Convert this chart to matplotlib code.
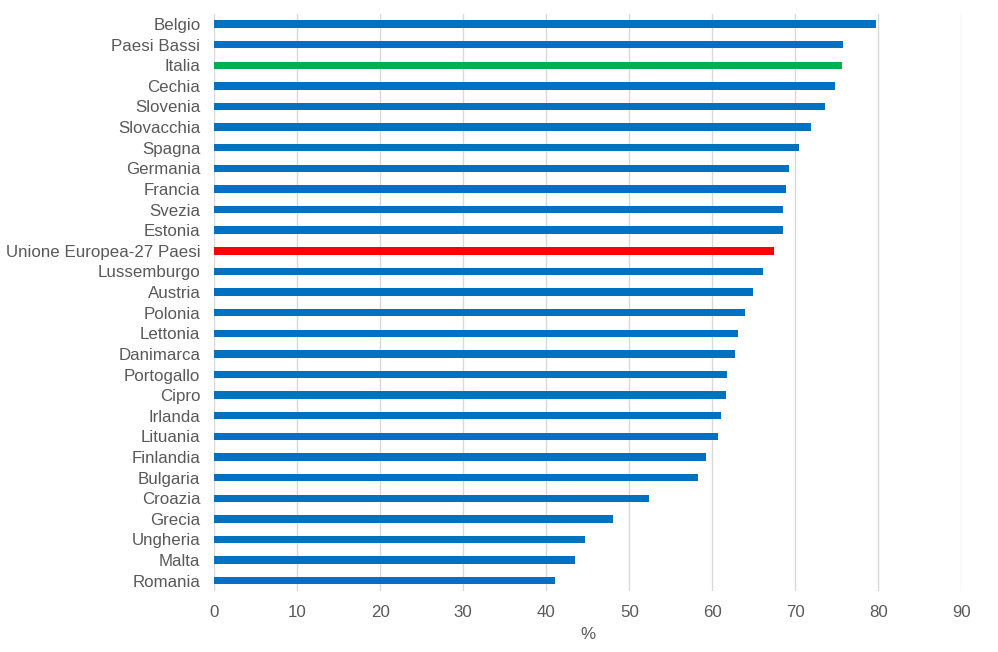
import matplotlib.pyplot as plt

plt.rcParams['font.family'] = ['Liberation Sans', 'DejaVu Sans']

countries = ["Belgio", "Paesi Bassi", "Italia", "Cechia", "Slovenia", "Slovacchia",
             "Spagna", "Germania", "Francia", "Svezia", "Estonia",
             "Unione Europea-27 Paesi", "Lussemburgo", "Austria", "Polonia",
             "Lettonia", "Danimarca", "Portogallo", "Cipro", "Irlanda", "Lituania",
             "Finlandia", "Bulgaria", "Croazia", "Grecia", "Ungheria", "Malta",
             "Romania"]
values = [79.7, 75.7, 75.6, 74.8, 73.6, 71.9, 70.4, 69.2, 68.9, 68.5, 68.5,
          67.4, 66.1, 64.9, 63.9, 63.1, 62.7, 61.8, 61.6, 61.0, 60.7, 59.3,
          58.3, 52.4, 48.0, 44.7, 43.5, 41.0]

colors = []
for c in countries:
    if c == "Italia":
        colors.append("#00B050")
    elif c.startswith("Unione"):
        colors.append("#FF0000")
    else:
        colors.append("#0070C0")

fig = plt.figure(figsize=(9.98, 6.52), dpi=100)
ax = fig.add_axes([0.2147, 0.0935, 0.7485, 0.8855])

y = list(range(len(countries)))
ax.barh(y, values, height=0.36, color=colors, zorder=3)
ax.set_ylim(len(countries) - 0.5, -0.5)
ax.set_xlim(0, 90)
ax.set_xticks(range(0, 91, 10))
ax.set_yticks(y)
ax.set_yticklabels(countries)

ax.grid(axis='x', color='#D9D9D9', linewidth=1, zorder=0)
for s in ax.spines.values():
    s.set_visible(False)
ax.tick_params(length=0, labelsize=12.2, colors='#595959')
ax.tick_params(axis='y', pad=10)
ax.tick_params(axis='x', pad=10)
ax.set_xlabel('%', fontsize=12.2, color='#595959', labelpad=5)

fig.savefig("out.png", dpi=100)
